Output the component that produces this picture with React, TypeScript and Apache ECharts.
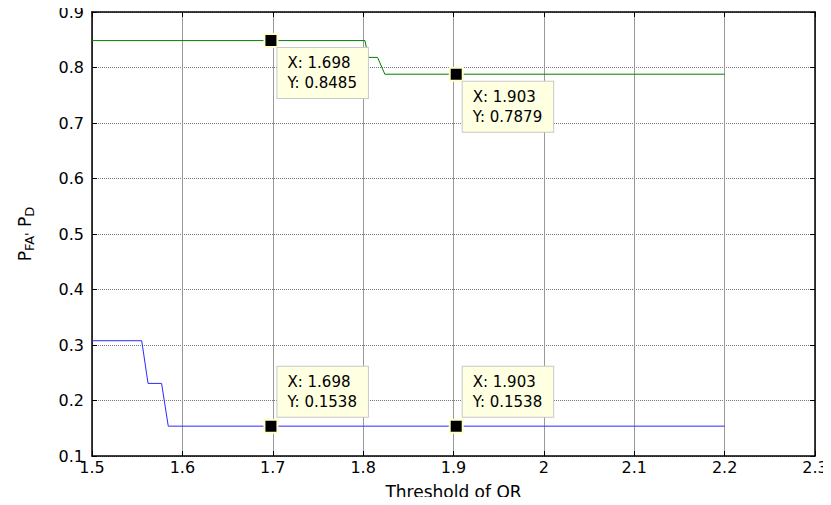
import React, { useEffect, useRef } from "react";
import * as echarts from "echarts";

// P_D curve (green)
const pdX = [1.5, 1.802, 1.806, 1.816, 1.824, 2.2];
const pdY = [0.8485, 0.8485, 0.8182, 0.8182, 0.7879, 0.7879];
// P_FA curve (blue)
const pfaX = [1.5, 1.555, 1.562, 1.577, 1.5844, 2.2];
const pfaY = [0.3077, 0.3077, 0.2308, 0.2308, 0.1538, 0.1538];
// data tips
const tipTopX = [1.698, 1.903];
const tipTopY = [0.8485, 0.7879];
const tipBotX = [1.698, 1.903];
const tipBotY = [0.1538, 0.1538];

const FONT = "DejaVu Sans";

function zip(xs: number[], ys: number[]) {
  return xs.map((x, i) => [x, ys[i]]);
}

function fmtTip(p: any) {
  return "X: " + p.value[0].toFixed(3) + "\nY: " + p.value[1].toFixed(4);
}

const tipLabelBase = {
  show: true,
  formatter: fmtTip,
  fontFamily: FONT,
  fontSize: 15,
  lineHeight: 20,
  color: "#000",
  backgroundColor: "#ffffe1",
  borderColor: "#c8c8c8",
  borderWidth: 1,
  padding: [5, 11, 5, 10],
  align: "left",
};

export default function App() {
  const ref = useRef<HTMLDivElement>(null);
  useEffect(() => {
    const chart = echarts.init(ref.current!, null, { renderer: "svg" });
    const axisCommon = {
      type: "value",
      axisLine: { show: true, onZero: false, lineStyle: { color: "#000", width: 1.5 } },
      axisTick: { show: true, inside: true, length: 5, lineStyle: { color: "#000" } },
    };
    chart.setOption({
      animation: false,
      backgroundColor: "#fff",
      grid: { left: 92, right: 16, top: 12, bottom: 48 },
      xAxis: [
        {
          ...axisCommon,
          position: "bottom",
          min: 1.5,
          max: 2.3,
          interval: 0.1,
          axisLabel: { color: "#000", fontFamily: FONT, fontSize: 16, margin: 3 },
          splitLine: { show: true, lineStyle: { color: "#999", width: 1, type: "solid" } },
          name: "Threshold of OR",
          nameLocation: "middle",
          nameGap: 27,
          nameTextStyle: { color: "#000", fontFamily: FONT, fontSize: 17 },
        },
        {
          ...axisCommon,
          position: "top",
          min: 1.5,
          max: 2.3,
          interval: 0.1,
          axisLabel: { show: false },
          splitLine: { show: false },
        },
      ],
      yAxis: [
        {
          ...axisCommon,
          position: "left",
          min: 0.1,
          max: 0.9,
          interval: 0.1,
          axisLabel: { color: "#000", fontFamily: FONT, fontSize: 16, margin: 8 },
          splitLine: { show: true, lineStyle: { color: "#777", width: 1, type: "dotted" } },
          name: "{p|P}{sub|FA'} {p|P}{sub|D}",
          nameLocation: "middle",
          nameRotate: 90,
          nameGap: 56,
          nameTextStyle: {
            color: "#000",
            fontFamily: FONT,
            fontSize: 17,
            rich: {
              p: { fontFamily: FONT, fontSize: 17, color: "#000" },
              sub: { fontFamily: FONT, fontSize: 13, color: "#000", padding: [10, 0, 0, 0] },
            },
          },
        },
        {
          ...axisCommon,
          position: "right",
          min: 0.1,
          max: 0.9,
          interval: 0.1,
          axisLabel: { show: false },
          splitLine: { show: false },
        },
      ],
      series: [
        {
          type: "line",
          data: zip(pdX, pdY),
          showSymbol: false,
          lineStyle: { color: "#008000", width: 1 },
          z: 3,
        },
        {
          type: "line",
          data: zip(pfaX, pfaY),
          showSymbol: false,
          lineStyle: { color: "#2a2aff", width: 1 },
          z: 3,
        },
        {
          type: "scatter",
          data: zip(tipTopX, tipTopY),
          symbol: "rect",
          symbolSize: 13,
          itemStyle: { color: "#000", borderColor: "#ffffcc", borderWidth: 2, opacity: 1 },
          label: { ...tipLabelBase, position: [14, 15], verticalAlign: "top" },
          z: 5,
        },
        {
          type: "scatter",
          data: zip(tipBotX, tipBotY),
          symbol: "rect",
          symbolSize: 13,
          itemStyle: { color: "#000", borderColor: "#ffffcc", borderWidth: 2, opacity: 1 },
          label: { ...tipLabelBase, position: [14, -2], verticalAlign: "bottom" },
          z: 5,
        },
      ],
    });
    return () => chart.dispose();
  }, []);
  return <div ref={ref} style={{ width: 831, height: 505, margin: -8 }} />;
}
